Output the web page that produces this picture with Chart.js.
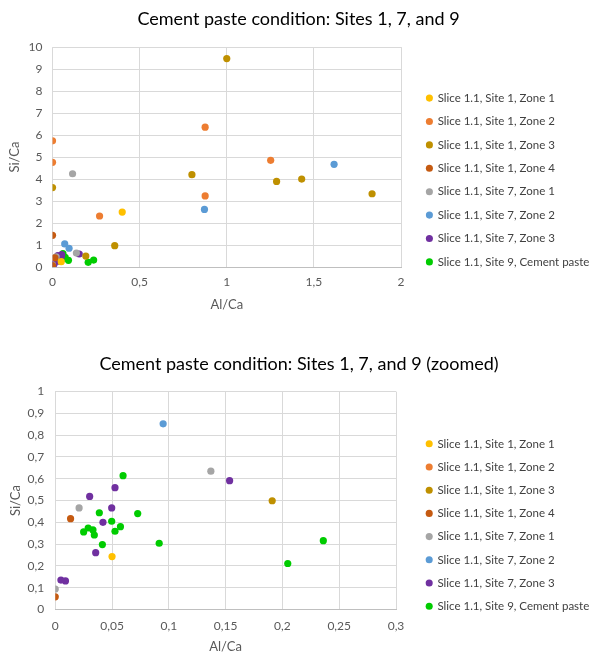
<!DOCTYPE html>
<html>
<head>
<meta charset="utf-8">
<script src="https://cdn.jsdelivr.net/npm/chart.js@4/dist/chart.umd.min.js"></script>
<style>
  body { margin: 0; background: #fff; }
  .box { position: absolute; left: 0; width: 590px; }
  #top { top: 0; height: 320px; }
  #bottom { top: 320px; height: 335px; }
</style>
</head>
<body>
<div class="box" id="top"><canvas id="chart1"></canvas></div>
<div class="box" id="bottom"><canvas id="chart2"></canvas></div>
<script>
// series names and colours
var seriesNames = ['Slice 1.1, Site 1, Zone 1', 'Slice 1.1, Site 1, Zone 2', 'Slice 1.1, Site 1, Zone 3',
                   'Slice 1.1, Site 1, Zone 4', 'Slice 1.1, Site 7, Zone 1', 'Slice 1.1, Site 7, Zone 2',
                   'Slice 1.1, Site 7, Zone 3', 'Slice 1.1, Site 9, Cement paste'];
var seriesColors = ['#FFC000', '#ED7D31', '#BF9000', '#C55A11', '#A5A5A5', '#5B9BD5', '#7030A0', '#00CC00'];

// Al/Ca (x) and Si/Ca (y) per series
var s1z1 = [[0.40, 2.50], [0.050, 0.243]];
var s1z2 = [[0, 5.74], [0, 4.76], [0.27, 2.32], [0.876, 6.36], [0.876, 3.23], [1.252, 4.85]];
var s1z3 = [[0, 3.61], [0.80, 4.20], [0.357, 0.97], [1.0, 9.48], [1.286, 3.89], [1.43, 4.0], [1.834, 3.33], [0.191, 0.499]];
var s1z4 = [[0, 1.44], [0.0135, 0.417], [0, 0.058]];
var s7z1 = [[0.115, 4.24], [0.137, 0.635], [0.021, 0.466], [0, 0.094]];
var s7z2 = [[0.07, 1.05], [0.095, 0.852], [0.872, 2.62], [1.616, 4.67]];
var s7z3 = [[0.0526, 0.559], [0.0303, 0.519], [0.0497, 0.466], [0.042, 0.400], [0.0356, 0.261],
            [0.005, 0.135], [0.009, 0.131], [0.1535, 0.591]];
var s9cp = [[0.0597, 0.614], [0.0388, 0.444], [0.0726, 0.440], [0.0497, 0.405], [0.0574, 0.380],
            [0.029, 0.374], [0.025, 0.356], [0.0332, 0.365], [0.0344, 0.342], [0.0526, 0.359],
            [0.0415, 0.298], [0.0915, 0.304], [0.236, 0.316], [0.2047, 0.211]];
var seriesData = [s1z1, s1z2, s1z3, s1z4, s7z1, s7z2, s7z3, s9cp];

var FONT = 'Lato, "Open Sans", sans-serif';

function comma(v) {
  return String(Number(v.toFixed(3))).replace('.', ',');
}

// o: layout tweaks per chart
function makeChart(id, title, xMax, xStep, yMax, yStep, o) {
  var datasets = seriesNames.map(function(name, i) {
    return {
      label: name,
      data: seriesData[i].map(function(p) { return {x: p[0], y: p[1]}; }),
      backgroundColor: seriesColors[i],
      borderColor: seriesColors[i],
      pointRadius: 3.6,
      pointBorderWidth: 0,
      pointHoverRadius: 3.6
    };
  });
  return new Chart(document.getElementById(id), {
    type: 'scatter',
    data: { datasets: datasets },
    options: {
      responsive: true,
      maintainAspectRatio: false,
      animation: false,
      layout: { padding: o.pad },
      plugins: {
        title: {
          display: true, text: title, color: '#000',
          font: { family: FONT, size: 18, weight: 'normal' },
          padding: { top: 6, bottom: o.titleGap }
        },
        legend: {
          position: 'right',
          align: 'center',
          maxWidth: o.legendW,
          title: { display: true, text: ' ', font: { size: 10 }, padding: { top: 0, bottom: o.legendShift } },
          labels: {
            usePointStyle: true, pointStyle: 'circle',
            boxWidth: 5, boxHeight: 5, padding: o.legendPad,
            color: '#404040',
            font: { family: FONT, size: 11.5 }
          }
        },
        tooltip: { enabled: false }
      },
      scales: {
        x: {
          type: 'linear', min: 0, max: xMax,
          ticks: { stepSize: xStep, color: '#595959', font: { family: FONT, size: 12 }, padding: o.xPad,
                   callback: function(v) { return comma(v); } },
          grid: { color: '#D9D9D9', drawTicks: false },
          border: { color: '#BFBFBF' },
          title: { display: true, text: 'Al/Ca', color: '#595959', font: { family: FONT, size: 13 },
                   padding: { top: o.xTitleTop, bottom: 0 } }
        },
        y: {
          type: 'linear', min: 0, max: yMax,
          ticks: { stepSize: yStep, color: '#595959', font: { family: FONT, size: 12 }, padding: o.yPad,
                   callback: function(v) { return comma(v); } },
          grid: { color: '#D9D9D9', drawTicks: false },
          border: { display: false },
          title: { display: true, text: 'Si/Ca', color: '#595959', font: { family: FONT, size: 13 },
                   padding: { top: 0, bottom: o.yTitleGap } }
        },
        // empty spacer between plot and legend
        gap: {
          type: 'linear', position: 'right', display: true,
          grid: { display: false }, ticks: { display: false }, border: { display: false },
          afterFit: function(s) { s.width = o.gap; }
        }
      }
    }
  });
}

makeChart('chart1', 'Cement paste condition: Sites 1, 7, and 9', 2, 0.5, 10, 1,
          { pad: { left: 7, right: 0, top: 2, bottom: 7 }, titleGap: 17.5,
            xPad: 8, xTitleTop: 0, yPad: 10, yTitleGap: -4,
            legendW: 175, gap: 14, legendShift: 33, legendPad: 11.9 });
makeChart('chart2', 'Cement paste condition: Sites 1, 7, and 9 (zoomed)', 0.3, 0.05, 1, 0.1,
          { pad: { left: 8, right: 0, top: 27, bottom: 0 }, titleGap: 17,
            xPad: 9.5, xTitleTop: -3.5, yPad: 11, yTitleGap: -7,
            legendW: 175, gap: 19, legendShift: 36, legendPad: 11.7 });
</script>
</body>
</html>
